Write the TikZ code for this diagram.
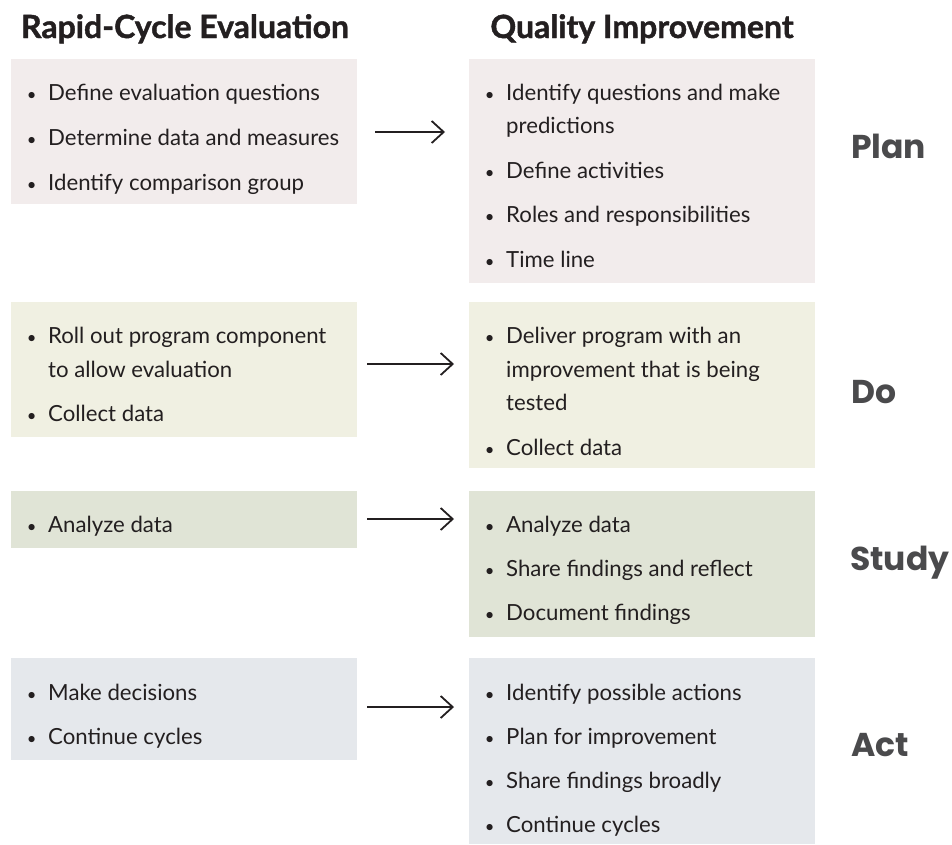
\documentclass[tikz,border=0pt]{standalone}
\usepackage{fontspec}
\setmainfont{Lato}
\newfontfamily\hdrfont{Lato}[BoldFeatures={FakeBold=1.3}]
\newfontfamily\lblfont{Poppins}
\usetikzlibrary{arrows.meta}
\definecolor{plancol}{RGB}{242,236,236}
\definecolor{docol}{RGB}{240,240,226}
\definecolor{studycol}{RGB}{224,228,214}
\definecolor{actcol}{RGB}{229,232,236}
\definecolor{txtcol}{RGB}{35,31,32}
\definecolor{lblcol}{RGB}{74,74,76}
\newcommand{\bmark}{\llap{\makebox[33pt]{\scalebox{0.75}{•}}}}
\tikzset{
  box/.style={draw=none, inner sep=0pt, anchor=north west},
  txt/.style={inner sep=0pt, anchor=base west, text=txtcol, font=\fontsize{22.2}{26}\selectfont},
  hdr/.style={inner sep=0pt, anchor=base, text=txtcol, font=\fontsize{32}{38}\selectfont\hdrfont\bfseries},
  lbl/.style={inner sep=0pt, anchor=base west, text=lblcol, font=\fontsize{33}{40}\selectfont\lblfont\bfseries},
  arr/.style={-{Straight Barb[length=12pt,width=22pt]}, line width=1.8pt, color=txtcol}
}
\begin{document}
\begin{tikzpicture}[x=1pt,y=-1pt]
\useasboundingbox (0,0) rectangle (952,844);
% headers
\node[hdr] (h1) at (185,38) {Rapid-Cycle Evaluation};
\node[hdr] (h2) at (642,38) {Quality Improvement};
% boxes
\node[box, fill=plancol, minimum width=346pt, minimum height=145pt] (pL) at (11,59) {};
\node[box, fill=plancol, minimum width=346pt, minimum height=224pt] (pR) at (469,59) {};
\node[box, fill=docol, minimum width=346pt, minimum height=135pt] (dL) at (11,302) {};
\node[box, fill=docol, minimum width=346pt, minimum height=166pt] (dR) at (469,302) {};
\node[box, fill=studycol, minimum width=346pt, minimum height=57pt] (sL) at (11,491) {};
\node[box, fill=studycol, minimum width=346pt, minimum height=146pt] (sR) at (469,491) {};
\node[box, fill=actcol, minimum width=346pt, minimum height=102pt] (aL) at (11,658) {};
\node[box, fill=actcol, minimum width=346pt, minimum height=186pt] (aR) at (469,658) {};
% Plan texts
\node[txt] (pL1) at (48,100) {\bmark Define evaluation questions};
\node[txt] (pL2) at (48,145) {\bmark Determine data and measures};
\node[txt] (pL3) at (48,190) {\bmark Identify comparison group};
\node[txt] (pR1) at (506,100) {\bmark Identify questions and make};
\node[txt] (pR1b) at (506,133) {predictions};
\node[txt] (pR2) at (506,178) {\bmark Define activities};
\node[txt] (pR3) at (506,222) {\bmark Roles and responsibilities};
\node[txt] (pR4) at (506,267) {\bmark Time line};
% Do texts
\node[txt] (dL1) at (48,343) {\bmark Roll out program component};
\node[txt] (dL1b) at (48,377) {to allow evaluation};
\node[txt] (dL2) at (48,421) {\bmark Collect data};
\node[txt] (dR1) at (506,343) {\bmark Deliver program with an};
\node[txt] (dR1b) at (506,377) {improvement that is being};
\node[txt] (dR1c) at (506,410) {tested};
\node[txt] (dR2) at (506,455) {\bmark Collect data};
% Study texts
\node[txt] (sL1) at (48,532) {\bmark Analyze data};
\node[txt] (sR1) at (506,532) {\bmark Analyze data};
\node[txt] (sR2) at (506,576) {\bmark Share findings and reflect};
\node[txt] (sR3) at (506,620) {\bmark Document findings};
% Act texts
\node[txt] (aL1) at (48,700) {\bmark Make decisions};
\node[txt] (aL2) at (48,744) {\bmark Continue cycles};
\node[txt] (aR1) at (506,700) {\bmark Identify possible actions};
\node[txt] (aR2) at (506,744) {\bmark Plan for improvement};
\node[txt] (aR3) at (506,788) {\bmark Share findings broadly};
\node[txt] (aR4) at (506,832) {\bmark Continue cycles};
% labels
\node[lbl] (lp) at (851,158) {Plan};
\node[lbl] (ld) at (851,403) {Do};
\node[lbl] (ls) at (850,570) {Study};
\node[lbl] (la) at (851,756) {Act};
% arrows
\coordinate (a1s) at (375,132); \coordinate (a1e) at (445,132);
\coordinate (a2s) at (367,364); \coordinate (a2e) at (454,364);
\coordinate (a3s) at (367,519); \coordinate (a3e) at (454,519);
\coordinate (a4s) at (367,707); \coordinate (a4e) at (454,707);
\draw[arr] (a1s) -- (a1e);
\draw[arr] (a2s) -- (a2e);
\draw[arr] (a3s) -- (a3e);
\draw[arr] (a4s) -- (a4e);
\end{tikzpicture}
\end{document}
